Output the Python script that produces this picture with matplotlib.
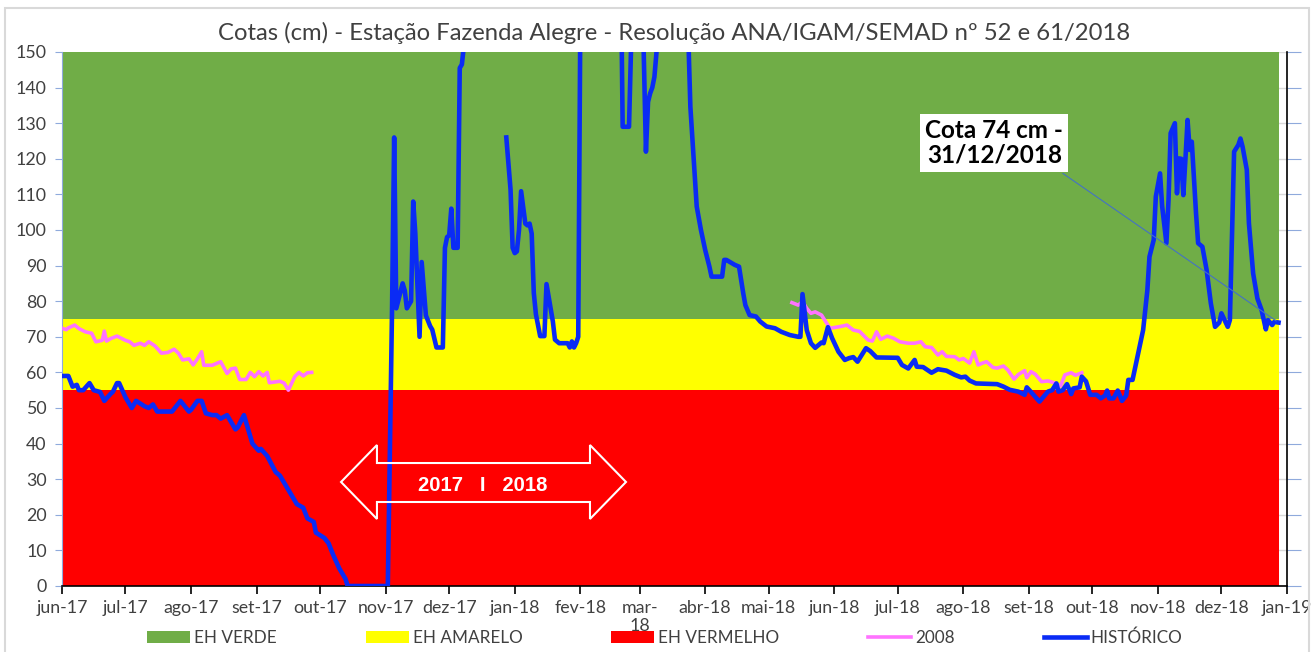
import numpy as np
import pandas as pd
import matplotlib.pyplot as plt
from matplotlib.patches import Patch, Polygon, Rectangle
from matplotlib.lines import Line2D

plt.rcParams['font.family'] = ['Lato', 'DejaVu Sans']

titulo = 'Cotas (cm) - Estação Fazenda Alegre - Resolução ANA/IGAM/SEMAD nº 52 e 61/2018'

# limites dos estados hidrologicos (cm)
eh_vermelho = 55
eh_amarelo = 75
eh_verde = 150
faixa_datas = ['2017-06-01', '2018-12-28']

# serie historica (valores > 150 saem do grafico, nan = sem dado)
hist_datas = [
    '2017-06-01', '2017-06-04', '2017-06-06', '2017-06-08', '2017-06-09', '2017-06-11',
    '2017-06-14', '2017-06-16', '2017-06-19', '2017-06-21', '2017-06-24', '2017-06-25',
    '2017-06-27', '2017-06-28', '2017-07-01', '2017-07-04', '2017-07-06', '2017-07-10',
    '2017-07-12', '2017-07-14', '2017-07-16', '2017-07-23', '2017-07-27', '2017-07-31',
    '2017-08-01', '2017-08-04', '2017-08-06', '2017-08-08', '2017-08-11', '2017-08-13',
    '2017-08-15', '2017-08-18', '2017-08-19', '2017-08-22', '2017-08-23', '2017-08-26',
    '2017-08-28', '2017-08-30', '2017-09-02', '2017-09-03', '2017-09-06', '2017-09-10',
    '2017-09-12', '2017-09-14', '2017-09-20', '2017-09-23', '2017-09-25', '2017-09-28',
    '2017-09-29', '2017-10-03', '2017-10-05', '2017-10-07', '2017-10-10', '2017-10-13',
    '2017-10-14', '2017-11-02', '2017-11-04', '2017-11-05', '2017-11-06', '2017-11-09',
    '2017-11-10', '2017-11-11', '2017-11-13', '2017-11-14', '2017-11-15', '2017-11-17',
    '2017-11-18', '2017-11-20', '2017-11-22', '2017-11-23', '2017-11-25', '2017-11-28',
    '2017-11-29', '2017-11-30', '2017-12-01', '2017-12-02', '2017-12-03', '2017-12-05',
    '2017-12-06', '2017-12-07', '2017-12-08', '2017-12-09', '2017-12-18', '2017-12-28',
    '2017-12-30', '2017-12-31', '2018-01-01', '2018-01-02', '2018-01-03', '2018-01-04',
    '2018-01-06', '2018-01-07', '2018-01-08', '2018-01-09', '2018-01-10', '2018-01-11',
    '2018-01-13', '2018-01-15', '2018-01-16', '2018-01-19', '2018-01-20', '2018-01-22',
    '2018-01-26', '2018-01-27', '2018-01-28', '2018-01-29', '2018-01-30', '2018-01-31',
    '2018-02-01', '2018-02-02', '2018-02-11', '2018-02-20', '2018-02-21', '2018-02-24',
    '2018-02-26', '2018-03-02', '2018-03-04', '2018-03-05', '2018-03-06', '2018-03-07',
    '2018-03-08', '2018-03-09', '2018-03-10', '2018-03-18', '2018-03-23', '2018-03-25',
    '2018-03-27', '2018-03-28', '2018-03-30', '2018-04-01', '2018-04-03', '2018-04-04',
    '2018-04-09', '2018-04-10', '2018-04-11', '2018-04-15', '2018-04-17', '2018-04-19',
    '2018-04-20', '2018-04-22', '2018-04-25', '2018-04-27', '2018-04-30', '2018-05-04',
    '2018-05-07', '2018-05-11', '2018-05-15', '2018-05-16', '2018-05-17', '2018-05-19',
    '2018-05-21', '2018-05-23', '2018-05-26', '2018-05-27', '2018-05-29', '2018-05-31',
    '2018-06-03', '2018-06-06', '2018-06-08', '2018-06-10', '2018-06-12', '2018-06-16',
    '2018-06-18', '2018-06-21', '2018-07-01', '2018-07-03', '2018-07-06', '2018-07-09',
    '2018-07-10', '2018-07-13', '2018-07-17', '2018-07-20', '2018-07-24', '2018-07-28',
    '2018-07-31', '2018-08-02', '2018-08-04', '2018-08-07', '2018-08-17', '2018-08-20',
    '2018-08-23', '2018-08-27', '2018-08-30', '2018-08-31', '2018-09-02', '2018-09-06',
    '2018-09-08', '2018-09-10', '2018-09-12', '2018-09-14', '2018-09-15', '2018-09-17',
    '2018-09-19', '2018-09-21', '2018-09-22', '2018-09-25', '2018-09-26', '2018-09-28',
    '2018-09-30', '2018-10-03', '2018-10-05', '2018-10-07', '2018-10-08', '2018-10-09',
    '2018-10-11', '2018-10-13', '2018-10-15', '2018-10-17', '2018-10-18', '2018-10-20',
    '2018-10-23', '2018-10-25', '2018-10-27', '2018-10-28', '2018-10-30', '2018-10-31',
    '2018-11-02', '2018-11-03', '2018-11-05', '2018-11-06', '2018-11-07', '2018-11-09',
    '2018-11-10', '2018-11-11', '2018-11-12', '2018-11-13', '2018-11-14', '2018-11-15',
    '2018-11-16', '2018-11-17', '2018-11-19', '2018-11-20', '2018-11-22', '2018-11-24',
    '2018-11-26', '2018-11-28', '2018-11-30', '2018-12-01', '2018-12-04', '2018-12-05',
    '2018-12-07', '2018-12-09', '2018-12-10', '2018-12-11', '2018-12-13', '2018-12-14',
    '2018-12-16', '2018-12-18', '2018-12-20', '2018-12-22', '2018-12-23', '2018-12-25',
    '2018-12-26', '2018-12-28',
]
hist_cotas = [
    59, 59, 56, 56.5, 55, 55,
    57, 55, 54.5, 52, 54, 54.5,
    57, 57, 53, 50, 52, 50.5,
    50, 51, 49, 49, 52, 49,
    49.5, 52, 52, 48.5, 48, 48,
    47, 48, 47, 44, 44.5, 48,
    44, 40, 38, 38.5, 36.5, 32,
    31, 29, 23, 22, 19, 18,
    15, 13.5, 12, 9, 5, 2,
    0, 0, 78, 126, 78, 85,
    83, 78, 80, 108, 99, 70,
    91, 76, 73, 72, 67, 67,
    95, 98, 98.5, 106, 95, 95,
    145.5, 146.5, 152, 175, np.nan, 126,
    111.4, 95, 93.5, 94, 100, 110.9,
    101.8, 101.3, 101.8, 99, 82.3, 76.3,
    70.2, 70.2, 84.8, 74.3, 69.2, 68.2,
    68.2, 67, 68.7, 67, 68.2, 70,
    160, 190, 210, 180, 129, 129,
    175, 175, 122, 136, 138.4, 140,
    143, 150, 170, 200, 175, 134.6,
    115.9, 106.6, 100, 94.4, 89.7, 86.9,
    86.9, 91.6, 91.6, 90.2, 89.7, 82.2,
    78.9, 76.1, 75.7, 74.3, 72.9, 72.4,
    71.4, 70.5, 70, 70, 82, 71.9,
    68.2, 66.9, 68.4, 68.2, 72.7, 69.6,
    65.8, 63.5, 64, 64.3, 63, 66.8,
    66, 64.2, 64.1, 62.1, 61.1, 63.5,
    61.6, 61.5, 59.9, 60.9, 60.5, 59.3,
    58.6, 58.8, 57.7, 56.9, 56.7, 56,
    55.1, 54.6, 53.7, 55.8, 54.5, 51.8,
    53.2, 54.6, 55, 56.9, 54.6, 55,
    56.7, 53.9, 55.5, 55.8, 58.8, 57.5,
    53.7, 53.7, 52.7, 53.5, 54.9, 52.7,
    52.7, 54.9, 52, 53.5, 57.9, 57.9,
    66.3, 71.9, 83.1, 92.5, 97.2, 109.4,
    115.9, 106.6, 96.3, 108.4, 127.2, 130,
    110.3, 120.1, 120, 109.8, 120, 130.9,
    122.5, 124.8, 104.7, 96.3, 95.3, 88.8,
    79.4, 72.8, 74, 76.6, 72.8, 74.7,
    122, 123.9, 125.7, 123.4, 116.9, 101.9,
    87.8, 80.8, 77.5, 72.1, 74.7, 73.3,
    74.2, 74,
]

# cotas de 2008 no mesmo calendario
c2008_datas = [
    '2017-06-01', '2017-06-03', '2017-06-04', '2017-06-07', '2017-06-09', '2017-06-12',
    '2017-06-15', '2017-06-17', '2017-06-20', '2017-06-21', '2017-06-22', '2017-06-24',
    '2017-06-27', '2017-07-01', '2017-07-03', '2017-07-05', '2017-07-08', '2017-07-10',
    '2017-07-12', '2017-07-15', '2017-07-18', '2017-07-21', '2017-07-24', '2017-07-26',
    '2017-07-28', '2017-07-31', '2017-08-02', '2017-08-04', '2017-08-06', '2017-08-07',
    '2017-08-11', '2017-08-15', '2017-08-18', '2017-08-20', '2017-08-22', '2017-08-24',
    '2017-08-27', '2017-08-29', '2017-08-31', '2017-09-02', '2017-09-04', '2017-09-06',
    '2017-09-07', '2017-09-12', '2017-09-14', '2017-09-16', '2017-09-19', '2017-09-21',
    '2017-09-23', '2017-09-25', '2017-09-27', '2017-10-15',
    '2018-05-12', '2018-05-15', '2018-05-17', '2018-05-19', '2018-05-21', '2018-05-23',
    '2018-05-26', '2018-05-28', '2018-05-30', '2018-06-04', '2018-06-07', '2018-06-10',
    '2018-06-13', '2018-06-17', '2018-06-19', '2018-06-21', '2018-06-23', '2018-06-26',
    '2018-06-29', '2018-07-02', '2018-07-06', '2018-07-09', '2018-07-12', '2018-07-14',
    '2018-07-17', '2018-07-20', '2018-07-22', '2018-07-24', '2018-07-28', '2018-07-30',
    '2018-08-01', '2018-08-04', '2018-08-06', '2018-08-08', '2018-08-10', '2018-08-12',
    '2018-08-15', '2018-08-17', '2018-08-20', '2018-08-22', '2018-08-25', '2018-08-27',
    '2018-08-30', '2018-08-31', '2018-09-02', '2018-09-04', '2018-09-07', '2018-09-10',
    '2018-09-13', '2018-09-16', '2018-09-18', '2018-09-21', '2018-09-23', '2018-09-26',
]
c2008_cotas = [
    72.4, 72, 72.5, 73.3, 72.3, 71.4,
    71, 68.6, 69, 71.6, 68.8, 69.5,
    70.2, 69, 68.6, 67.6, 68.2, 67.6,
    68.6, 67.4, 65.4, 65.6, 66.5, 65.4,
    63.5, 63.8, 62.1, 63.8, 65.8, 62,
    62, 63, 59.7, 61, 61.2, 58,
    58, 60, 58.8, 60.2, 59, 60,
    57.1, 57.5, 57, 55, 58.8, 60,
    59, 59.9, 60, np.nan,
    79.6, 78.9, 79.9, 78, 76.6, 77,
    76.1, 74.2, 72.4, 72.9, 73.3, 71.9,
    71.5, 69.1, 68.8, 71.4, 69.3, 70.2,
    69.6, 68.6, 68.2, 68.2, 68.6, 67.2,
    67, 64.9, 65.8, 64.5, 64.4, 63.5,
    63.9, 62.6, 65.8, 62.1, 62.6, 63,
    61.4, 61.2, 61.8, 60.7, 58.1, 59.4,
    60.5, 58.5, 60.2, 59.5, 57.4, 57.6,
    57.1, 56.2, 59.3, 59.9, 59.2, 59.9,
]

meses_rotulos = ['jun-17', 'jul-17', 'ago-17', 'set-17', 'out-17', 'nov-17', 'dez-17',
                 'jan-18', 'fev-18', 'mar-\n18', 'abr-18', 'mai-18', 'jun-18', 'jul-18',
                 'ago-18', 'set-18', 'out-18', 'nov-18', 'dez-18', 'jan-19']
meses = pd.date_range('2017-06-01', '2019-01-01', freq='MS')

cor_texto = '#404040'

fig = plt.figure(figsize=(13.12, 6.52), dpi=100)
ax = fig.add_axes([62 / 1312, 66 / 652, 1225 / 1312, 534 / 652])

# faixas dos estados hidrologicos
fx = pd.to_datetime(faixa_datas)
ax.fill_between(fx, 0, eh_vermelho, color='#FF0000', lw=0, zorder=1)
ax.fill_between(fx, eh_vermelho, eh_amarelo, color='#FFFF00', lw=0, zorder=1)
ax.fill_between(fx, eh_amarelo, eh_verde, color='#70AD47', lw=0, zorder=1)

ax.plot(pd.to_datetime(c2008_datas), c2008_cotas, color='#FF73FF', lw=2.6, zorder=3)
ax.plot(pd.to_datetime(hist_datas), hist_cotas, color='#0A2BF5', lw=3.3, zorder=4,
        solid_joinstyle='round')

ax.set_xlim(meses[0], meses[-1])
ax.set_ylim(0, 150)
ax.set_yticks(range(0, 151, 10))
ax.set_xticks(meses)
ax.set_xticklabels(meses_rotulos)
ax.yaxis.grid(True, color='#D9D9D9', lw=1, zorder=0)
ax.set_axisbelow(True)

ax.tick_params(axis='x', direction='out', length=6, width=1.2, color='black',
               labelsize=12.8, labelcolor=cor_texto, pad=4)
ax.tick_params(axis='y', direction='out', length=5, color='#8FAADC',
               labelsize=12.8, labelcolor=cor_texto, pad=6)
ax.tick_params(axis='y', which='major', right=True, labelright=False)
for t in ax.yaxis.get_ticklines()[1::2]:
    t.set_color('#D9D9D9')
    t.set_markersize(10)
ax.spines['top'].set_visible(False)
ax.spines['left'].set_color('#8FAADC')
ax.spines['bottom'].set_color('black')
ax.spines['bottom'].set_linewidth(1.2)
ax.spines['right'].set_color('black')
ax.spines['right'].set_linewidth(1.2)

ax.set_title(titulo, fontsize=17.2, color=cor_texto, pad=9)

# seta 2017 | 2018
seta = [(0.2278, 0.1948), (0.2571, 0.2640), (0.2571, 0.2303), (0.4310, 0.2303),
        (0.4310, 0.2640), (0.4604, 0.1948), (0.4310, 0.1255), (0.4310, 0.1573),
        (0.2571, 0.1573), (0.2571, 0.1255)]
ax.add_patch(Polygon(seta, closed=True, fill=False, edgecolor='white', lw=1.5,
                     transform=ax.transAxes, zorder=5))
ax.text(0.3437, 0.1873, '2017   I   2018', transform=ax.transAxes, ha='center',
        va='center', color='white', fontsize=14.6, fontweight='bold',
        family=['Liberation Sans', 'DejaVu Sans'], zorder=6)

# anotacao da ultima cota
ax.annotate('Cota 74 cm -\n31/12/2018', xy=(pd.Timestamp(hist_datas[-1]), hist_cotas[-1]),
            xytext=(0.761, 0.8296), textcoords='axes fraction', ha='center', va='center',
            fontsize=17.5, fontweight='bold', color='black', linespacing=1.1,
            bbox=dict(boxstyle='square,pad=0.2', fc='white', ec='none'),
            arrowprops=dict(arrowstyle='-', color='#4472C4', lw=0.8, relpos=(0.93, 0)),
            zorder=7)

handles = [Patch(facecolor='#70AD47'), Patch(facecolor='#FFFF00'), Patch(facecolor='#FF0000'),
           Line2D([], [], color='#FF73FF', lw=2.6), Line2D([], [], color='#0A2BF5', lw=3.3)]
rotulos = ['EH VERDE', 'EH AMARELO', 'EH VERMELHO', '2008', 'HISTÓRICO']
leg = fig.legend(handles, rotulos, loc='center', bbox_to_anchor=(665 / 1312, 1 - 638 / 652),
                 ncol=5, frameon=False, fontsize=12.3, handlelength=2.5, handletextpad=0.25,
                 columnspacing=5.2)
for t in leg.get_texts():
    t.set_color(cor_texto)

# borda da area do grafico
fig.add_artist(Rectangle((5 / 1312, -0.1), 1304 / 1312, 1.1 - 8 / 652, fill=False,
                         edgecolor='#D9D9D9', lw=1.5, transform=fig.transFigure))

fig.savefig('out.png', dpi=100)
